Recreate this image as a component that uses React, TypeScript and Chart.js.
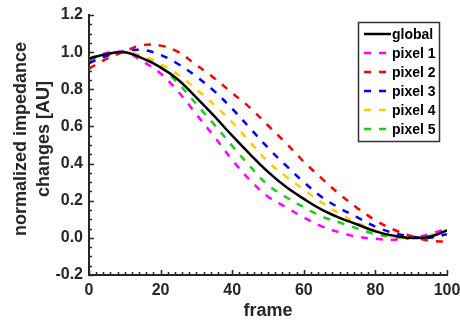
import React, { useEffect, useRef } from "react";
import { Chart, registerables } from "chart.js";

Chart.register(...registerables);

const frames = [0, 5, 10, 15, 20, 25, 30, 35, 40, 45, 50, 55, 60, 65, 70, 75, 80, 85, 90, 95, 100];
const globalCurve = [0.965, 0.99, 1.0, 0.966, 0.918, 0.85, 0.755, 0.655, 0.55, 0.45, 0.355, 0.275, 0.21, 0.152, 0.108, 0.072, 0.035, 0.012, 0.0, 0.005, 0.04];
const pixel1 = [0.962, 0.995, 1.0, 0.95, 0.885, 0.785, 0.665, 0.545, 0.42, 0.31, 0.222, 0.165, 0.11, 0.062, 0.03, 0.006, -0.005, -0.01, 0.0, 0.02, 0.05];
const pixel2 = [0.912, 0.965, 1.005, 1.038, 1.035, 1.0, 0.93, 0.86, 0.78, 0.7, 0.605, 0.51, 0.41, 0.32, 0.235, 0.16, 0.095, 0.045, 0.01, -0.015, -0.02];
const pixel3 = [0.94, 0.98, 1.005, 1.012, 0.985, 0.935, 0.868, 0.79, 0.695, 0.59, 0.485, 0.39, 0.3, 0.22, 0.16, 0.11, 0.06, 0.027, 0.007, 0.0, 0.02];
const pixel4 = [0.97, 0.99, 1.0, 0.98, 0.935, 0.878, 0.8, 0.715, 0.622, 0.515, 0.41, 0.33, 0.26, 0.19, 0.13, 0.08, 0.04, 0.007, 0.0, 0.015, 0.04];
const pixel5 = [0.955, 0.985, 1.0, 0.972, 0.918, 0.83, 0.72, 0.61, 0.495, 0.385, 0.285, 0.22, 0.165, 0.115, 0.083, 0.05, 0.02, 0.005, 0.0, 0.01, 0.04];

const seriesLabels = ["global", "pixel 1", "pixel 2", "pixel 3", "pixel 4", "pixel 5"];
const seriesValues = [globalCurve, pixel1, pixel2, pixel3, pixel4, pixel5];
const seriesColors = ["#000000", "#FF00FF", "#FF0000", "#0000FF", "#FFCC00", "#1ECC1E"];
const xTickLabels = ["0", "20", "40", "60", "80", "100"];
const yTickLabels = ["-0.2", "0.0", "0.2", "0.4", "0.6", "0.8", "1.0", "1.2"];
const xTitle = "frame";
const yTitleLines = ["normalized impedance", "changes [AU]"];

const AXIS = "#262626";
const FONT = "'Liberation Sans', Arial, Helvetica, sans-serif";

const tickPlugin = {
  id: "inwardTicks",
  afterDraw(chart: any) {
    const { ctx, chartArea } = chart;
    const xs = chart.scales.x;
    const ys = chart.scales.y;
    ctx.save();
    ctx.strokeStyle = AXIS;
    ctx.lineWidth = 1.5;
    ctx.beginPath();
    for (let i = 0; i <= 28; i++) {
      const v = -0.2 + i * 0.05;
      const p = Math.round(ys.getPixelForValue(v)) + 0.5;
      const len = i % 4 === 0 ? 5 : 3;
      ctx.moveTo(chartArea.left, p);
      ctx.lineTo(chartArea.left + len, p);
    }
    for (let i = 0; i <= 50; i++) {
      const v = i * 2;
      const p = Math.round(xs.getPixelForValue(v)) + 0.5;
      const len = i % 10 === 0 ? 5 : 3;
      ctx.moveTo(p, chartArea.bottom);
      ctx.lineTo(p, chartArea.bottom - len);
    }
    ctx.stroke();

    // y-axis title (two lines, rotated)
    ctx.fillStyle = "#262626";
    ctx.font = `bold 18px ${FONT}`;
    ctx.textAlign = "center";
    ctx.textBaseline = "middle";
    const cy = (chartArea.top + chartArea.bottom) / 2 - 6;
    const xsTitle = [21, 44.5];
    yTitleLines.forEach((line, i) => {
      ctx.save();
      ctx.translate(xsTitle[i], cy);
      ctx.rotate(-Math.PI / 2);
      ctx.fillText(line, 0, 0);
      ctx.restore();
    });
    ctx.restore();
  },
};

const legendPlugin = {
  id: "boxLegend",
  afterDraw(chart: any) {
    const { ctx } = chart;
    const left = 358.5;
    const top = 22.5;
    const w = 81;
    const h = 119;
    ctx.save();
    ctx.fillStyle = "#ffffff";
    ctx.fillRect(left, top, w, h);
    ctx.strokeStyle = "#333333";
    ctx.lineWidth = 1.5;
    ctx.strokeRect(left, top, w, h);
    ctx.font = `bold 14px ${FONT}`;
    ctx.textBaseline = "middle";
    ctx.textAlign = "left";
    chart.data.datasets.forEach((ds: any, i: number) => {
      const y = 34 + i * 19;
      ctx.strokeStyle = ds.borderColor;
      ctx.lineWidth = ds.borderWidth;
      ctx.setLineDash(ds.borderDash || []);
      ctx.beginPath();
      ctx.moveTo(364, y);
      ctx.lineTo(391, y);
      ctx.stroke();
      ctx.setLineDash([]);
      ctx.fillStyle = "#000000";
      ctx.fillText(ds.label, 392, y + 1);
    });
    ctx.restore();
  },
};

export default function App() {
  const ref = useRef<HTMLCanvasElement | null>(null);
  useEffect(() => {
    if (!ref.current) return;
    const datasets = seriesLabels.map((label, i) => ({
      label,
      data: frames.map((f, j) => ({ x: f, y: seriesValues[i][j] })),
      borderColor: seriesColors[i],
      backgroundColor: seriesColors[i],
      borderWidth: 2.5,
      borderDash: i === 0 ? [] : [7, 8],
      pointRadius: 0,
      tension: 0.4,
      fill: false,
    }));
    const chart = new Chart(ref.current, {
      type: "line",
      data: { datasets: datasets as any },
      options: {
        animation: false,
        responsive: false,
        maintainAspectRatio: false,
        layout: { padding: { top: 15, right: 13, left: 0, bottom: 0 } },
        plugins: { legend: { display: false }, tooltip: { enabled: false } },
        scales: {
          x: {
            type: "linear",
            min: 0,
            max: 100,
            afterFit: (s: any) => {
              s.height = 47;
              s.paddingLeft = 0;
              s.paddingRight = 0;
            },
            afterBuildTicks: (s: any) => {
              s.ticks = xTickLabels.map((t) => ({ value: Number(t) }));
            },
            ticks: {
              padding: 6,
              color: "#262626",
              font: { family: FONT, size: 16, weight: "bold" },
              callback: (v: any) => xTickLabels.find((t) => Number(t) === v) ?? "",
              maxRotation: 0,
            },
            grid: { display: false, drawTicks: false },
            border: { display: true, color: AXIS, width: 2 },
            title: {
              display: true,
              text: xTitle,
              color: "#262626",
              font: { family: FONT, size: 18, weight: "bold", lineHeight: 1.1 },
              padding: { top: 0, bottom: 1 },
            },
          },
          y: {
            type: "linear",
            min: -0.2,
            max: 1.2,
            afterFit: (s: any) => {
              s.width = 89;
              s.paddingTop = 0;
              s.paddingBottom = 0;
            },
            afterBuildTicks: (s: any) => {
              s.ticks = yTickLabels.map((t) => ({ value: Number(t) }));
            },
            ticks: {
              padding: 6,
              color: "#262626",
              font: { family: FONT, size: 16, weight: "bold" },
              callback: (v: any) => yTickLabels.find((t) => Math.abs(Number(t) - v) < 1e-6) ?? "",
            },
            grid: { display: false, drawTicks: false },
            border: { display: true, color: AXIS, width: 2 },
          },
        },
      },
      plugins: [tickPlugin, legendPlugin],
    });
    return () => chart.destroy();
  }, []);
  return (
    <div style={{ position: "fixed", left: 0, top: 0, width: 460, height: 322, background: "#fff" }}>
      <canvas ref={ref} width={460} height={322} style={{ display: "block", width: 460, height: 322 }} />
    </div>
  );
}
